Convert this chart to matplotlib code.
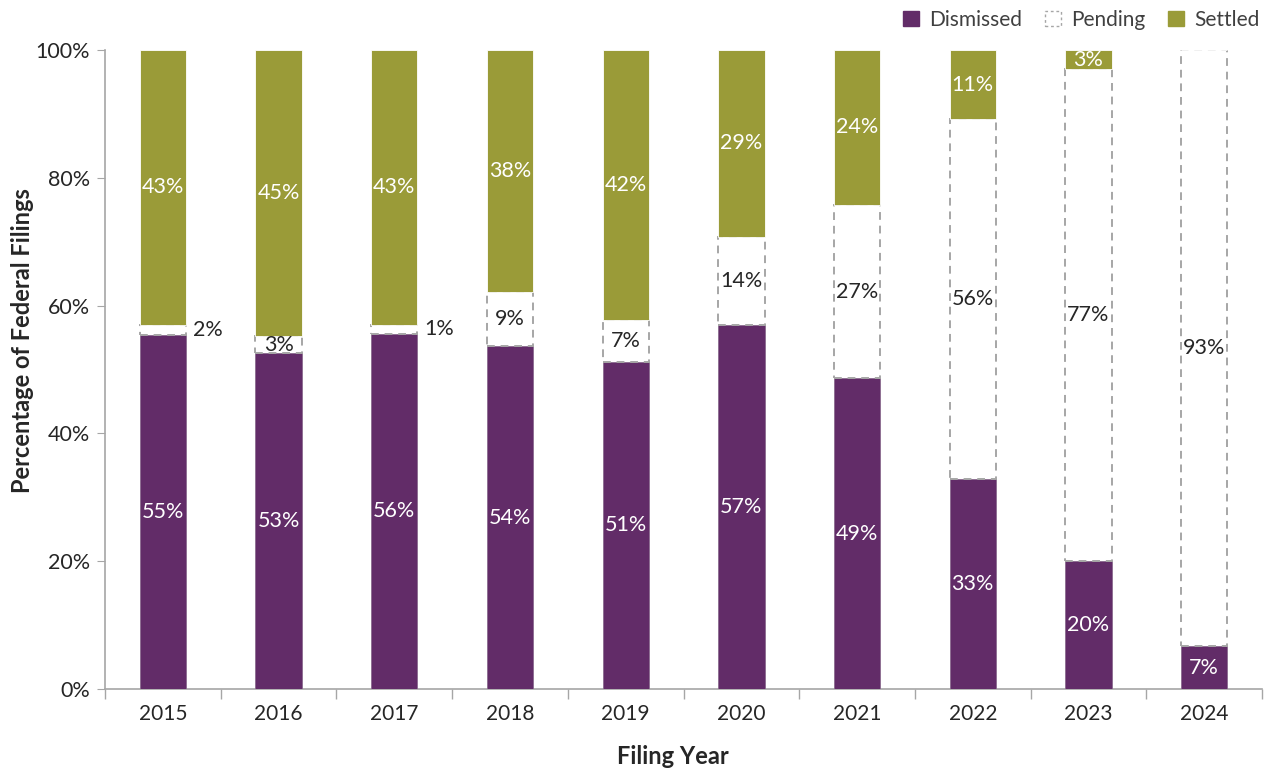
import matplotlib.pyplot as plt
from matplotlib.patches import Patch
from matplotlib.ticker import PercentFormatter, FixedLocator

plt.rcParams['font.family'] = ['Lato', 'DejaVu Sans']

# data (percent of filings)
years = ['2015', '2016', '2017', '2018', '2019', '2020', '2021', '2022', '2023', '2024']
dismissed = [55.4, 52.6, 55.6, 53.6, 51.2, 57.0, 48.6, 32.9, 20.1, 6.7]
pending = [1.6, 2.6, 1.4, 8.6, 6.6, 13.8, 27.2, 56.3, 76.9, 93.3]
settled = [43.0, 44.8, 43.0, 37.8, 42.2, 29.2, 24.2, 10.8, 3.0, 0.0]

purple = '#622C68'
olive = '#9A9B38'
gray = '#A6A6A6'
txt = '#262626'

fig = plt.figure(figsize=(12.7, 7.68), dpi=100)
ax = fig.add_axes([0.0827, 0.1029, 0.911, 0.832])

x = list(range(len(years)))
w = 0.4
bottom2 = [d + p for d, p in zip(dismissed, pending)]

ax.bar(x, dismissed, w, color=purple, edgecolor='#8a6a8e', linewidth=0.6, zorder=3)
ax.bar(x, pending, w, bottom=dismissed, facecolor='white', edgecolor=gray,
       linewidth=1.4, linestyle=(0, (4, 3)), zorder=3)
ax.bar(x, settled, w, bottom=bottom2, color=olive, edgecolor='white', linewidth=0.6, zorder=3)

# value labels
fs = 15.5
for i in x:
    ax.text(i, dismissed[i] / 2, f'{round(dismissed[i])}%', ha='center', va='center',
            color='white', fontsize=fs, zorder=4)
    if pending[i] < 2:
        ax.text(i + w / 2 + 0.06, dismissed[i] + pending[i] / 2, f'{round(pending[i])}%',
                ha='left', va='center', color=txt, fontsize=fs, zorder=4)
    else:
        ax.text(i, dismissed[i] + pending[i] / 2, f'{round(pending[i])}%', ha='center',
                va='center', color=txt, fontsize=fs, zorder=4)
    if settled[i] > 0:
        ax.text(i, bottom2[i] + settled[i] / 2, f'{round(settled[i])}%', ha='center',
                va='center', color='white', fontsize=fs, zorder=4)

ax.set_xlim(-0.5, len(years) - 0.5)
ax.set_ylim(0, 100)
ax.set_xticks(x)
ax.set_xticklabels(years, fontsize=15, color=txt)
ax.xaxis.set_minor_locator(FixedLocator([i - 0.5 for i in range(len(years) + 1)]))
ax.tick_params(axis='x', which='major', length=0, pad=11)
ax.tick_params(axis='x', which='minor', length=7, color=gray, width=1)
ax.set_yticks([0, 20, 40, 60, 80, 100])
ax.yaxis.set_major_formatter(PercentFormatter(decimals=0))
ax.tick_params(axis='y', length=6, color=gray, labelsize=15.5, labelcolor=txt, pad=5)

for s in ['top', 'right']:
    ax.spines[s].set_visible(False)
for s in ['left', 'bottom']:
    ax.spines[s].set_color(gray)
    ax.spines[s].set_linewidth(1.2)

ax.set_xlabel('Filing Year', fontsize=17, fontweight='bold', color=txt)
ax.set_ylabel('Percentage of Federal Filings', fontsize=17, fontweight='bold', color=txt)
ax.xaxis.set_label_coords(0.491, -0.088)
ax.yaxis.set_label_coords(-0.061, 0.545)

handles = [Patch(facecolor=purple, edgecolor=purple, label='Dismissed'),
           Patch(facecolor='white', edgecolor=gray, linestyle=(0, (2, 2)), label='Pending'),
           Patch(facecolor=olive, edgecolor=olive, label='Settled')]
leg = fig.legend(handles=handles, loc='upper right', bbox_to_anchor=(1.0065, 1.012), ncol=3,
                 frameon=False, fontsize=15, handlelength=0.75, handleheight=0.75,
                 handletextpad=0.5, columnspacing=1.1)
for t in leg.get_texts():
    t.set_color('#404040')

plt.savefig('out.png', dpi=100)
